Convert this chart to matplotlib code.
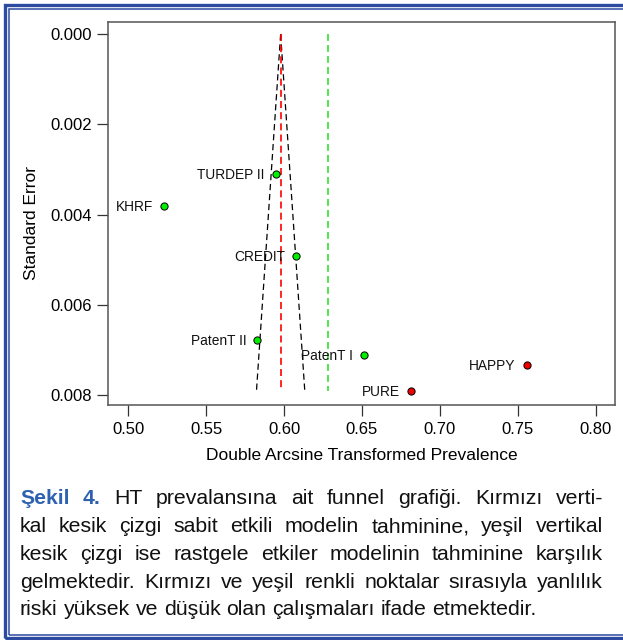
import matplotlib
matplotlib.use("Agg")
import matplotlib.pyplot as plt
from matplotlib.patches import Rectangle
import numpy as np

# study estimates (double arcsine) and standard errors
studies = ["TURDEP II", "KHRF", "CREDIT", "PatenT II", "PatenT I", "HAPPY", "PURE"]
yi = [0.5948, 0.5229, 0.6076, 0.5828, 0.6513, 0.7559, 0.6815]
sei = [0.00310, 0.00381, 0.00491, 0.00679, 0.00711, 0.00733, 0.00791]
risk = ["low", "low", "low", "low", "low", "high", "high"]

fe_est = 0.5978   # fixed effect estimate (red)
re_est = 0.6280   # random effects estimate (green)

x_ticks = [0.50, 0.55, 0.60, 0.65, 0.70, 0.75, 0.80]
y_ticks = [0.000, 0.002, 0.004, 0.006, 0.008]

caption_lines = [
    "HT prevalansına ait funnel grafiği. Kırmızı verti-",
    "kal kesik çizgi sabit etkili modelin tahminine, yeşil vertikal",
    "kesik çizgi ise rastgele etkiler modelinin tahminine karşılık",
    "gelmektedir. Kırmızı ve yeşil renkli noktalar sırasıyla yanlılık",
    "riski yüksek ve düşük olan çalışmaları ifade etmektedir.",
]
caption_head = "Şekil 4."

plt.rcParams['font.family'] = ['Liberation Sans', 'DejaVu Sans']

W, H = 623, 640
fig = plt.figure(figsize=(W / 100, H / 100), dpi=100)
fig.patch.set_facecolor("white")

# pixel helpers
def fx(px):
    return px / W

def fy(py):
    return 1 - py / H

ax = fig.add_axes([fx(108.3), fy(405), fx(615) - fx(108.3), fy(22.3) - fy(405)])

# funnel around the fixed effect estimate
se_max = max(sei)
se_line = np.array([0, se_max])
dash = (0, (5, 3))
ax.plot(fe_est - 1.96 * se_line, se_line, color="black", lw=0.9, ls=dash)
ax.plot(fe_est + 1.96 * se_line, se_line, color="black", lw=0.9, ls=dash)
ax.plot([fe_est, fe_est], [0, se_max], color="#ff0000", lw=1.2, ls=(0, (4.2, 2.5)), zorder=3)
ax.plot([re_est, re_est], [0, se_max], color="#22dd22", lw=1.1, ls=(0, (4.5, 2.7)), zorder=3)

cols = {"low": "#00ee00", "high": "#ee0000"}
for name, x, s, r in zip(studies, yi, sei, risk):
    ax.plot(x, s, "o", ms=5.2, mfc=cols[r], mec="black", mew=0.7, zorder=5)
    ax.annotate(name, (x, s), xytext=(-8, -3.6), textcoords="offset points",
                ha="right", va="baseline", fontsize=9.9, color="#111111")

ax.set_xlim(0.4872, 0.8124)
ax.set_ylim(0.008222, -0.000266)
ax.set_xticks(x_ticks)
ax.set_xticklabels(["%.2f" % v for v in x_ticks])
ax.set_yticks(y_ticks)
ax.set_yticklabels(["%.3f" % v for v in y_ticks])
ax.tick_params(direction="out", length=8, width=0.9, color="#333333",
               labelsize=12, pad=4)
for sp in ax.spines.values():
    sp.set_color("#555555")
    sp.set_linewidth(1.1)

fig.text(fx(31), fy(223), "Standard Error", rotation=90, ha="center", va="center",
         fontsize=12.5)
fig.text(fx(361.5), fy(455), "Double Arcsine Transformed Prevalence", ha="center",
         va="center", fontsize=12.5)

# outer double frame (right side is cut off)
blue = "#2b4aa0"
fig.add_artist(Rectangle((fx(5), fy(638)), 1.2, fy(5) - fy(638), transform=fig.transFigure,
                         fill=False, ec=blue, lw=2.4))
fig.add_artist(Rectangle((fx(8.7), fy(634.5)), 1.2, fy(8.7) - fy(634.5), transform=fig.transFigure,
                         fill=False, ec=blue, lw=1.1))

# caption, justified by hand
renderer = fig.canvas.get_renderer()
left, right = 20, 603
cap_size = 15.3
baselines = [504.5, 532.2, 559.9, 587.6, 615.3]

def word_width(t):
    bb = t.get_window_extent(renderer)
    return bb.width

for i, line in enumerate(caption_lines):
    tokens = [(w, "normal", "#111111") for w in line.split(" ")]
    if i == 0:
        tokens = [(w, "bold", "#2e62b0") for w in caption_head.split(" ")] + tokens
    texts = []
    for w, weight, c in tokens:
        t = fig.text(0, fy(baselines[i]), w, fontsize=cap_size, fontweight=weight,
                     color=c, ha="left", va="baseline")
        texts.append(t)
    widths = [word_width(t) for t in texts]
    if i < len(caption_lines) - 1:
        gap = (right - left - sum(widths)) / (len(texts) - 1)
    else:
        space = fig.text(0, 0, "a a", fontsize=cap_size)
        space2 = fig.text(0, 0, "aa", fontsize=cap_size)
        gap = word_width(space) - word_width(space2)
        space.remove()
        space2.remove()
    x = left
    for t, w in zip(texts, widths):
        t.set_x(fx(x))
        x += w + gap

fig.savefig("out.png", dpi=100)
